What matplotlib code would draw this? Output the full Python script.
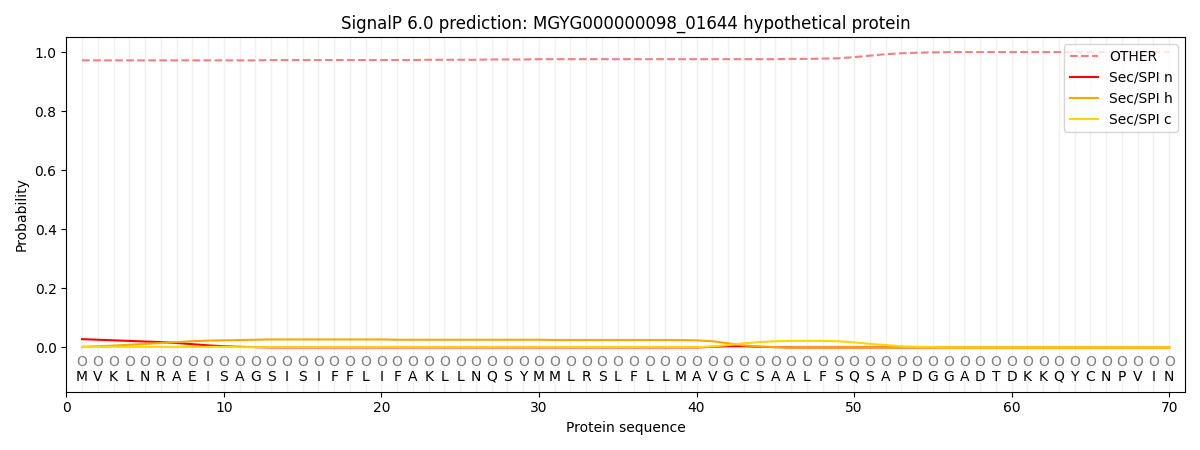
import numpy as np
import matplotlib
matplotlib.use("Agg")
import matplotlib.pyplot as plt

sequence = "MVKLNRAEISAGSISIFFLIFAKLLNQSYMMLRSLFLLMAVGCSAALFSQSAPDGGADTDKKQYCNPVIN"
region_labels = ["O"] * len(sequence)

# per-residue probabilities
other = [0.972, 0.972, 0.972, 0.972, 0.972, 0.972, 0.972, 0.972, 0.972, 0.972,
         0.972, 0.972, 0.973, 0.973, 0.973, 0.973, 0.973, 0.973, 0.973, 0.973,
         0.973, 0.973, 0.974, 0.974, 0.974, 0.974, 0.975, 0.975, 0.975, 0.976,
         0.976, 0.976, 0.976, 0.976, 0.976, 0.976, 0.976, 0.976, 0.976, 0.976,
         0.976, 0.976, 0.976, 0.976, 0.976, 0.977, 0.977, 0.978, 0.979, 0.983,
         0.988, 0.993, 0.996, 0.998, 0.999, 1.0, 1.0, 1.0, 1.0, 1.0,
         1.0, 1.0, 1.0, 1.0, 1.0, 1.0, 1.0, 1.0, 1.0, 1.0]
sec_n = [0.028, 0.026, 0.024, 0.022, 0.020, 0.018, 0.015, 0.011, 0.007, 0.004,
         0.002, 0.001, 0.0, 0.0, 0.0, 0.0, 0.0, 0.0, 0.0, 0.0,
         0.0, 0.0, 0.0, 0.0, 0.0, 0.0, 0.0, 0.0, 0.0, 0.0,
         0.0, 0.0, 0.0, 0.0, 0.0, 0.0, 0.0, 0.0, 0.0, 0.0,
         0.002, 0.004, 0.004, 0.002, 0.001, 0.0, 0.0, 0.0, 0.0, 0.0,
         0.0, 0.0, 0.0, 0.0, 0.0, 0.0, 0.0, 0.0, 0.0, 0.0,
         0.0, 0.0, 0.0, 0.0, 0.0, 0.0, 0.0, 0.0, 0.0, 0.0]
sec_h = [0.002, 0.004, 0.006, 0.009, 0.012, 0.015, 0.018, 0.021, 0.023, 0.024,
         0.025, 0.026, 0.027, 0.027, 0.027, 0.027, 0.027, 0.027, 0.027, 0.027,
         0.026, 0.026, 0.026, 0.026, 0.026, 0.026, 0.026, 0.026, 0.026, 0.026,
         0.025, 0.025, 0.025, 0.025, 0.025, 0.025, 0.025, 0.025, 0.025, 0.024,
         0.021, 0.014, 0.007, 0.003, 0.001, 0.0, 0.0, 0.0, 0.0, 0.0,
         0.0, 0.0, 0.0, 0.0, 0.0, 0.0, 0.0, 0.0, 0.0, 0.0,
         0.0, 0.0, 0.0, 0.0, 0.0, 0.0, 0.0, 0.0, 0.0, 0.0]
sec_c = [0.001, 0.002, 0.002, 0.002, 0.002, 0.002, 0.002, 0.002, 0.002, 0.002,
         0.001, 0.001, 0.001, 0.001, 0.001, 0.001, 0.001, 0.001, 0.001, 0.001,
         0.001, 0.001, 0.001, 0.001, 0.001, 0.001, 0.001, 0.001, 0.001, 0.001,
         0.001, 0.001, 0.001, 0.001, 0.001, 0.001, 0.001, 0.001, 0.001, 0.001,
         0.003, 0.008, 0.014, 0.018, 0.021, 0.022, 0.022, 0.022, 0.021, 0.017,
         0.012, 0.008, 0.004, 0.002, 0.001, 0.0, 0.0, 0.0, 0.0, 0.0,
         0.0, 0.0, 0.0, 0.0, 0.0, 0.0, 0.0, 0.0, 0.0, 0.0]

pos = np.arange(1, len(sequence) + 1)

fig, ax = plt.subplots(figsize=(12, 4.5), dpi=100)

for p in pos:
    ax.axvline(p, color="#e6e6e6", lw=1, alpha=0.6, zorder=0)

ax.plot(pos, other, color="lightcoral", ls="--", label="OTHER")
ax.plot(pos, sec_n, color="red", label="Sec/SPI n")
ax.plot(pos, sec_h, color="orange", label="Sec/SPI h")
ax.plot(pos, sec_c, color="gold", label="Sec/SPI c")

for p, aa, lab in zip(pos, sequence, region_labels):
    ax.text(p, -0.05, lab, ha="center", va="center", color="gray", fontsize=10)
    ax.text(p, -0.1, aa, ha="center", va="center", color="black", fontsize=10)

ax.set_xlim(0, 71)
ax.set_ylim(-0.15, 1.05)
ax.set_xlabel("Protein sequence")
ax.set_ylabel("Probability")
ax.set_title("SignalP 6.0 prediction: MGYG000000098_01644 hypothetical protein")
ax.legend(loc="upper right")

plt.tight_layout()
plt.savefig("out.png")
